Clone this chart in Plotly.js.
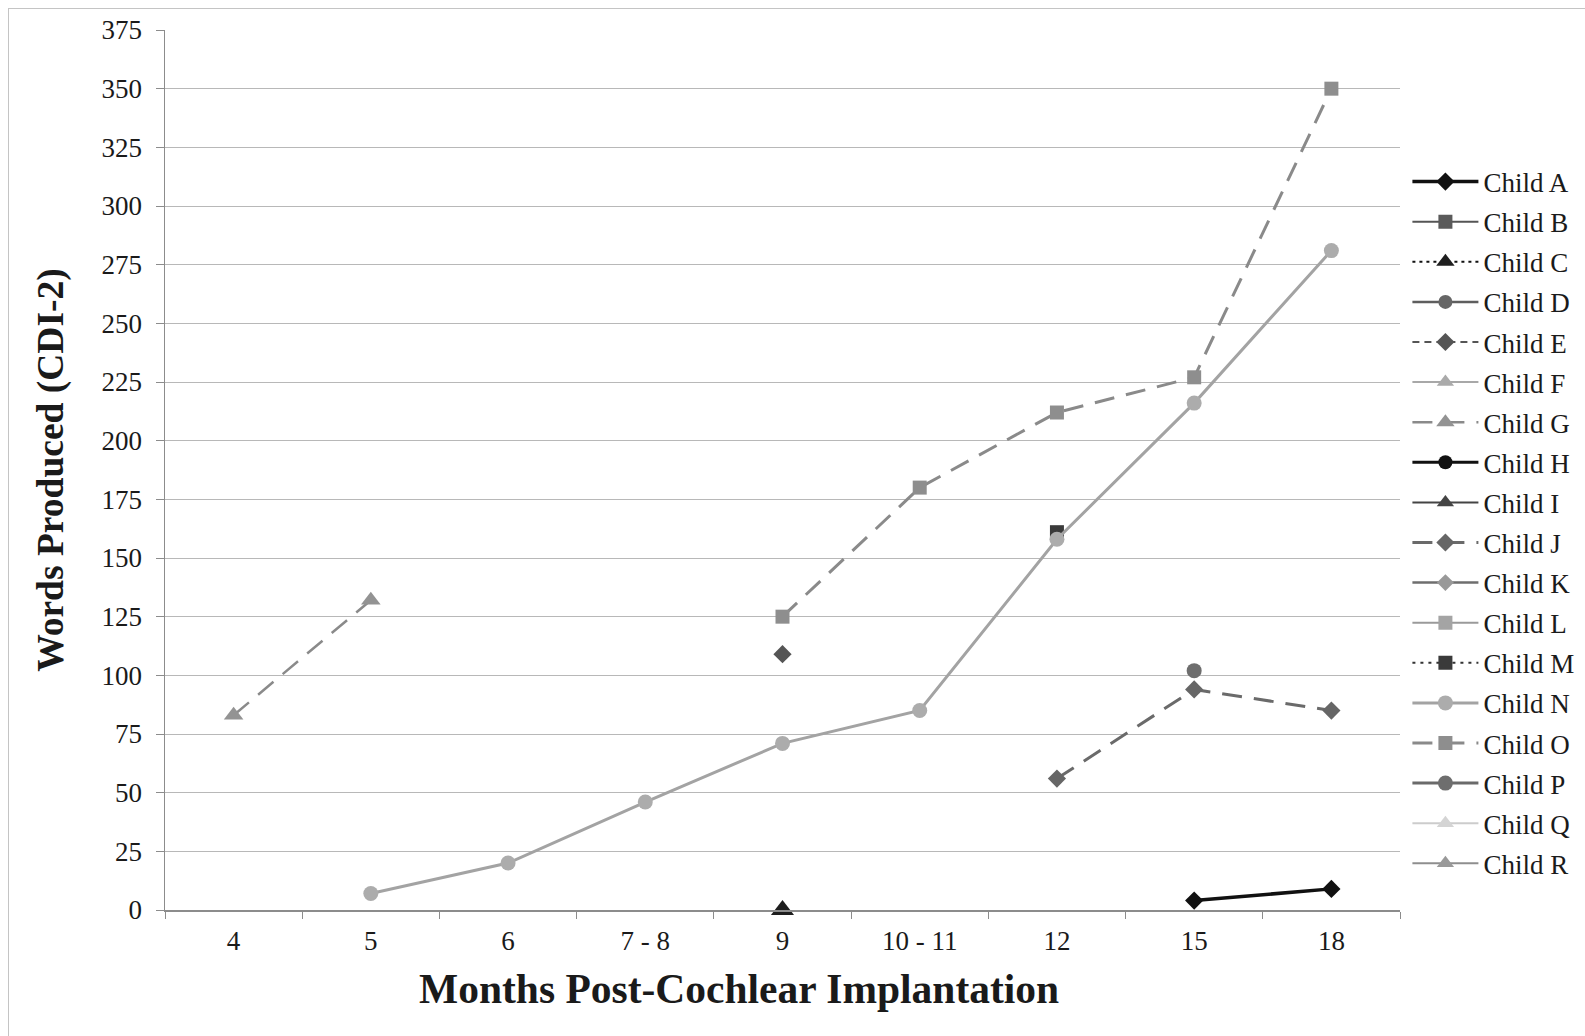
<!DOCTYPE html>
<html>
<head>
<meta charset="utf-8">
<script src="https://cdn.plot.ly/plotly-3.0.1.min.js"></script>
<style>
  html, body { margin: 0; padding: 0; background: #fff; overflow: hidden; }
  #chart { position: absolute; left: 0; top: 0; width: 1585px; height: 1036px; }
  #frame { position: absolute; left: 8px; top: 8px; width: 1600px; height: 1100px;
           border-left: 1px solid #c4c4c4; border-top: 1px solid #c4c4c4; pointer-events: none; }
</style>
</head>
<body>
<div id="chart"></div>
<div id="frame"></div>
<script>
// ---- Data ----
const months = ["4", "5", "6", "7 - 8", "9", "10 - 11", "12", "15", "18"];
const yTicks = [0, 25, 50, 75, 100, 125, 150, 175, 200, 225, 250, 275, 300, 325, 350, 375];

const childA = [null, null, null, null, null, null, null, 4, 9];
const childB = [null, null, null, null, null, null, null, null, null];
const childC = [null, null, null, null, 0, null, null, null, null];
const childD = [null, null, null, null, null, null, null, null, null];
const childE = [null, null, null, null, 109, null, null, null, null];
const childF = [null, null, null, null, null, null, null, null, null];
const childG = [83, 132, null, null, null, null, null, null, null];
const childH = [null, null, null, null, null, null, null, null, null];
const childI = [null, null, null, null, null, null, null, null, null];
const childJ = [null, null, null, null, null, null, 56, 94, 85];
const childK = [null, null, null, null, null, null, null, null, null];
const childL = [null, null, null, null, null, null, null, null, null];
const childM = [null, null, null, null, null, null, 161, null, null];
const childN = [null, 7, 20, 46, 71, 85, 158, 216, 281];
const childO = [null, null, null, null, 125, 180, 212, 227, 350];
const childP = [null, null, null, null, null, null, null, 102, null];
const childQ = [null, null, null, null, null, null, null, null, null];
const childR = [null, null, null, null, null, null, null, null, null];

// ---- Styles ----
const series = [
  {name: "Child A", y: childA, color: "#111111", mcolor: "#111111", symbol: "diamond", dash: "solid", lw: 3.5, ms: 14},
  {name: "Child B", y: childB, color: "#555555", mcolor: "#5a5a5a", symbol: "square", dash: "solid", lw: 2, ms: 14},
  {name: "Child C", y: childC, color: "#111111", mcolor: "#1e1e1e", symbol: "triangle-up", dash: "3px,4px", lw: 2, ms: 20},
  {name: "Child D", y: childD, color: "#5e5e5e", mcolor: "#666666", symbol: "circle", dash: "solid", lw: 2.5, ms: 14},
  {name: "Child E", y: childE, color: "#555555", mcolor: "#555555", symbol: "diamond", dash: "7px,5px", lw: 2, ms: 14},
  {name: "Child F", y: childF, color: "#a8a8a8", mcolor: "#aaaaaa", symbol: "triangle-up", dash: "solid", lw: 2, ms: 15},
  {name: "Child G", y: childG, color: "#8a8a8a", mcolor: "#939393", symbol: "triangle-up", dash: "20px,12px", lw: 2.5, ms: 17},
  {name: "Child H", y: childH, color: "#111111", mcolor: "#111111", symbol: "circle", dash: "solid", lw: 3, ms: 14},
  {name: "Child I", y: childI, color: "#444444", mcolor: "#444444", symbol: "triangle-up", dash: "solid", lw: 2, ms: 15},
  {name: "Child J", y: childJ, color: "#6a6a6a", mcolor: "#666666", symbol: "diamond", dash: "20px,12px", lw: 3, ms: 14},
  {name: "Child K", y: childK, color: "#6e6e6e", mcolor: "#999999", symbol: "diamond", dash: "solid", lw: 2.5, ms: 13},
  {name: "Child L", y: childL, color: "#9a9a9a", mcolor: "#a4a4a4", symbol: "square", dash: "solid", lw: 2, ms: 14},
  {name: "Child M", y: childM, color: "#333333", mcolor: "#3a3a3a", symbol: "square", dash: "3px,5px", lw: 2, ms: 14},
  {name: "Child N", y: childN, color: "#a3a3a3", mcolor: "#acacac", symbol: "circle", dash: "solid", lw: 3, ms: 15},
  {name: "Child O", y: childO, color: "#8a8a8a", mcolor: "#8e8e8e", symbol: "square", dash: "20px,12px", lw: 3, ms: 14},
  {name: "Child P", y: childP, color: "#6a6a6a", mcolor: "#6e6e6e", symbol: "circle", dash: "solid", lw: 3, ms: 15},
  {name: "Child Q", y: childQ, color: "#cccccc", mcolor: "#d4d4d4", symbol: "triangle-up", dash: "solid", lw: 2, ms: 15},
  {name: "Child R", y: childR, color: "#8e8e8e", mcolor: "#999999", symbol: "triangle-up", dash: "solid", lw: 2, ms: 15}
];

const traces = series.map(s => ({
  type: "scatter",
  mode: "lines+markers",
  name: s.name,
  legendgroup: s.name,
  x: months,
  y: s.y,
  connectgaps: false,
  cliponaxis: false,
  line: {color: s.color, width: s.lw, dash: s.dash},
  marker: {symbol: s.symbol, size: s.ms, color: s.mcolor, line: {width: 0}}
}));

const serif = "Liberation Serif, Times New Roman, DejaVu Serif, serif";

const layout = {
  width: 1585,
  height: 1036,
  paper_bgcolor: "#ffffff",
  plot_bgcolor: "#ffffff",
  margin: {l: 165, r: 185, t: 30, b: 126, pad: 0, autoexpand: false},
  font: {family: serif, color: "#1a1a1a"},
  showlegend: true,
  legend: {
    x: 1.006, xanchor: "left",
    y: 0.4403, yanchor: "middle",
    font: {family: serif, size: 27, color: "#1a1a1a"},
    bgcolor: "rgba(0,0,0,0)",
    itemwidth: 66,
    tracegroupgap: 2,
    traceorder: "grouped"
  },
  xaxis: {
    type: "category",
    categoryorder: "array",
    categoryarray: months,
    range: [-0.5, 8.5],
    showgrid: false,
    zeroline: false,
    showline: true,
    linecolor: "#8c8c8c",
    linewidth: 1.5,
    ticks: "outside",
    tickson: "boundaries",
    ticklen: 7,
    tickcolor: "#8c8c8c",
    ticklabelstandoff: 6,
    tickfont: {family: serif, size: 27, color: "#1a1a1a"}
  },
  yaxis: {
    range: [0, 375],
    tickmode: "array",
    tickvals: yTicks,
    ticktext: yTicks.map(String),
    showgrid: true,
    gridcolor: "#b8b8b8",
    gridwidth: 1,
    zeroline: false,
    showline: true,
    linecolor: "#8c8c8c",
    linewidth: 1.5,
    ticks: "outside",
    ticklen: 8,
    tickcolor: "#8c8c8c",
    ticklabelstandoff: 8,
    tickfont: {family: serif, size: 27, color: "#1a1a1a"},
    title: {text: "<b>Words Produced (CDI-2)</b>", font: {family: serif, size: 37.5, color: "#1a1a1a"}, standoff: 26}
  },
  annotations: [{
    text: "<b>Months Post-Cochlear Implantation</b>",
    xref: "paper", yref: "paper",
    x: 0.4648, y: -0.0898,
    xanchor: "center", yanchor: "middle",
    showarrow: false,
    font: {family: serif, size: 41.5, color: "#1a1a1a"}
  }]
};

Plotly.newPlot("chart", traces, layout, {displayModeBar: false, staticPlot: true});
</script>
</body>
</html>
